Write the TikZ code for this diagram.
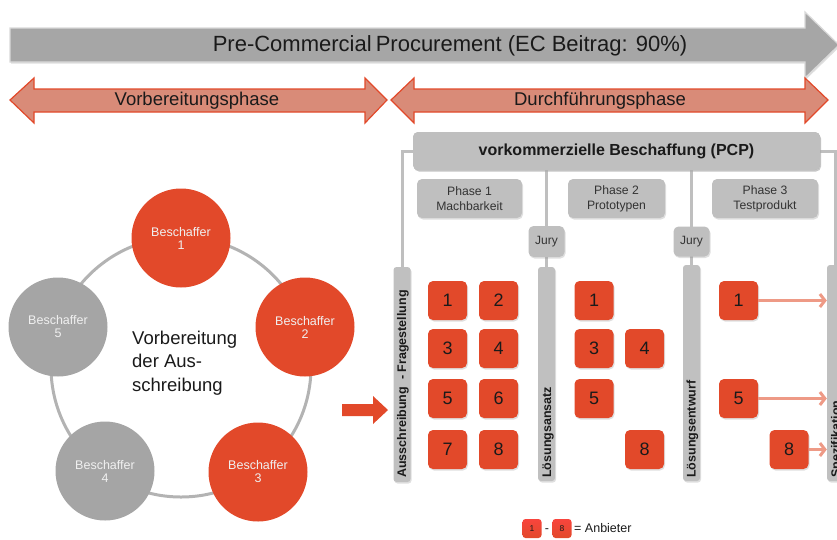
\documentclass[tikz,border=0pt]{standalone}
\usepackage{fontspec}
\setmainfont{Liberation Sans}
\usetikzlibrary{arrows.meta,shadows,positioning}
\definecolor{pcpred}{HTML}{E2492A}
\definecolor{salmon}{HTML}{D98B78}
\definecolor{arrowsalmon}{HTML}{EE9A86}
\definecolor{boxgray}{HTML}{BFBFBF}
\definecolor{bargray}{HTML}{C0C0C0}
\definecolor{bigarrow}{HTML}{A6A6A6}
\definecolor{circgray}{HTML}{A5A5A5}
\definecolor{ringgray}{HTML}{B3B3B3}
\definecolor{txt}{HTML}{1A1A1A}
\definecolor{phasetxt}{HTML}{333333}
\tikzset{
  fs/.style n args={2}{font=\fontsize{#1}{#2}\selectfont},
  fsb/.style n args={2}{font=\fontsize{#1}{#2}\selectfont\bfseries},
  shad/.style={drop shadow={opacity=0.25,shadow xshift=1pt,shadow yshift=-1.5pt}},
  redbox/.style={shad,fill=pcpred,rounded corners=5pt,minimum width=39pt,minimum height=39pt,inner sep=0pt,text=txt,fs={18}{20}},
  graybox/.style={shad,fill=boxgray,rounded corners=5pt,inner sep=0pt,align=center,text=phasetxt},
  barbox/.style={shad,fill=bargray,rounded corners=3pt,minimum width=17pt,inner sep=0pt},
  conn/.style={draw=boxgray,line width=3pt},
  circ/.style={circle,minimum size=99pt,inner sep=0pt,align=center,text=white!94!black,fs={12.5}{13}},
  barlabel/.style={rotate=90,anchor=west,inner sep=0pt,text=txt,fsb={12.5}{14}},
  offer/.style={-{Straight Barb[length=5pt,width=13pt,line width=3pt]},draw=arrowsalmon,line width=3pt},
  legbox/.style={rounded corners=3pt,minimum width=19pt,minimum height=19pt,inner sep=0pt,top color=red!70!pcpred!80!white,bottom color=pcpred,fs={8.5}{9},text=txt}
}
\begin{document}
\begin{tikzpicture}[x=1pt,y=-1pt]
\useasboundingbox (0,0) rectangle (837,539);
\clip (0,0) rectangle (837,539);
% top big arrow
\draw[shad,fill=bigarrow,draw=white!85!black,line width=1.2pt] (10,28) -- (805,28) -- (805,12) -- (839,45) -- (805,78) -- (805,62) -- (10,62) -- cycle;
\node[fs={22}{24},text=txt] (pcptitle) at (450,46) {Pre-Commercial\hspace{-2pt} Procurement (EC Beitrag: 90\%)};
% double arrows
\draw[fill=salmon,draw=pcpred,line width=1.2pt] (10,100) -- (34,78) -- (34,89) -- (365,89) -- (365,78) -- (387,100) -- (365,123) -- (365,112) -- (34,112) -- (34,123) -- cycle;
\node[fs={18.5}{20},text=txt] (vorb) at (197,101) {Vorbereitungsphase};
\draw[fill=salmon,draw=pcpred,line width=1.2pt] (391,100) -- (414,78) -- (414,89) -- (805,89) -- (805,78) -- (828,100) -- (805,123) -- (805,112) -- (414,112) -- (414,123) -- cycle;
\node[fs={18.5}{20},text=txt] (durch) at (600,101) {Durchführungsphase};
% PCP header and phase boxes
\node[graybox,minimum width=407pt,minimum height=38pt] (pcp) at (616.5,151) {};
\node[graybox,minimum width=105pt,minimum height=39pt,fs={12.2}{15}] (ph1) at (469.5,198.5) {Phase 1\\Machbarkeit};
\node[graybox,minimum width=97pt,minimum height=39pt,fs={12.2}{15}] (ph2) at (616.5,198.5) {Phase 2\\Prototypen};
\node[graybox,minimum width=106pt,minimum height=39pt,fs={12.2}{15}] (ph3) at (765,198.5) {Phase 3\\Testprodukt};
% connectors
\draw[conn] (pcp.west) -| (402,267);
\draw[conn] (pcp.east) -| (835.5,265);
\draw[conn] (546.5,170) -- (546.5,267);
\draw[conn] (691.5,170) -- (691.5,265);
% header on top of connectors
\node[graybox,minimum width=407pt,minimum height=38pt,fsb={16}{18},text=txt] at (pcp) {vorkommerzielle Beschaffung (PCP)};
\node[graybox,minimum width=36pt,minimum height=31pt,fs={12}{14}] (jury1) at (546.5,241.5) {Jury};
\node[graybox,minimum width=36pt,minimum height=30pt,fs={12}{14}] (jury2) at (691.5,241.5) {Jury};
% bars
\node[barbox,minimum height=215pt] (bar1) at (402,374.5) {};
\node[barbox,minimum height=214pt] (bar2) at (546.5,374) {};
\node[barbox,minimum height=216pt] (bar3) at (691.5,373) {};
\node[barbox,minimum height=216pt] (bar4) at (835.5,373) {};
% bar labels
\node[barlabel] (lab1) at (403,478) {Ausschreibung \ - Fragestellung};
\node[barlabel] (lab2) at (548,478) {Lösungsansatz};
\node[barlabel] (lab3) at (692.5,478) {Lösungsentwurf};
\node[barlabel] (lab4) at (837,478) {Spezifikation};
% phase 1 boxes
\node[redbox] (a1) at (447.5,300.5) {1};
\node[redbox] (a2) at (498.5,300.5) {2};
\node[redbox] (a3) at (447.5,348.5) {3};
\node[redbox] (a4) at (498.5,348.5) {4};
\node[redbox] (a5) at (447.5,398.5) {5};
\node[redbox] (a6) at (498.5,398.5) {6};
\node[redbox] (a7) at (447.5,449.5) {7};
\node[redbox] (a8) at (498.5,449.5) {8};
% phase 2 boxes
\node[redbox] (b1) at (594,300.5) {1};
\node[redbox] (b3) at (594,348.5) {3};
\node[redbox] (b4) at (644.5,348.5) {4};
\node[redbox] (b5) at (594,398.5) {5};
\node[redbox] (b8) at (644.5,449.5) {8};
% phase 3 boxes
\node[redbox] (c1) at (738.5,300.5) {1};
\node[redbox] (c5) at (738.5,398.5) {5};
\node[redbox] (c8) at (789,449.5) {8};
\draw[offer] (c1.east) -- (c1.east -| bar4.west);
\draw[offer] (c5.east) -- (c5.east -| bar4.west);
\draw[offer] (c8.east) -- (c8.east -| bar4.west);
% legend
\node[legbox] (l1) at (532,528.5) {1};
\node[fs={12.5}{14},text=txt,inner sep=0pt] (ldash) at (547,531) {-};
\node[legbox] (l8) at (562,528.5) {8};
\node[fs={12.5}{14},text=txt,anchor=west,inner sep=0pt] (lanb) at (574,528.5) {= Anbieter};
% left circle diagram
\draw[ringgray,line width=3pt] (181,367) circle (130pt);
\node[circ,fill=pcpred] (s1) at (181,238) {Beschaffer\\1};
\node[circ,fill=pcpred] (s2) at (305,327) {Beschaffer\\2};
\node[circ,fill=pcpred] (s3) at (258,472) {Beschaffer\\3};
\node[circ,fill=circgray] (s4) at (105,471) {Beschaffer\\4};
\node[circ,fill=circgray] (s5) at (58,327) {Beschaffer\\5};
\node[anchor=west,align=left,inner sep=0pt,fs={18.5}{23.5},text=txt] (vtext) at (132,363) {Vorbereitung\\der Aus-\\schreibung};
% red arrow
\draw[fill=pcpred,draw=none] (342,404) -- (373,404) -- (373,396) -- (388,410) -- (373,424) -- (373,416) -- (342,416) -- cycle;
\end{tikzpicture}
\end{document}
